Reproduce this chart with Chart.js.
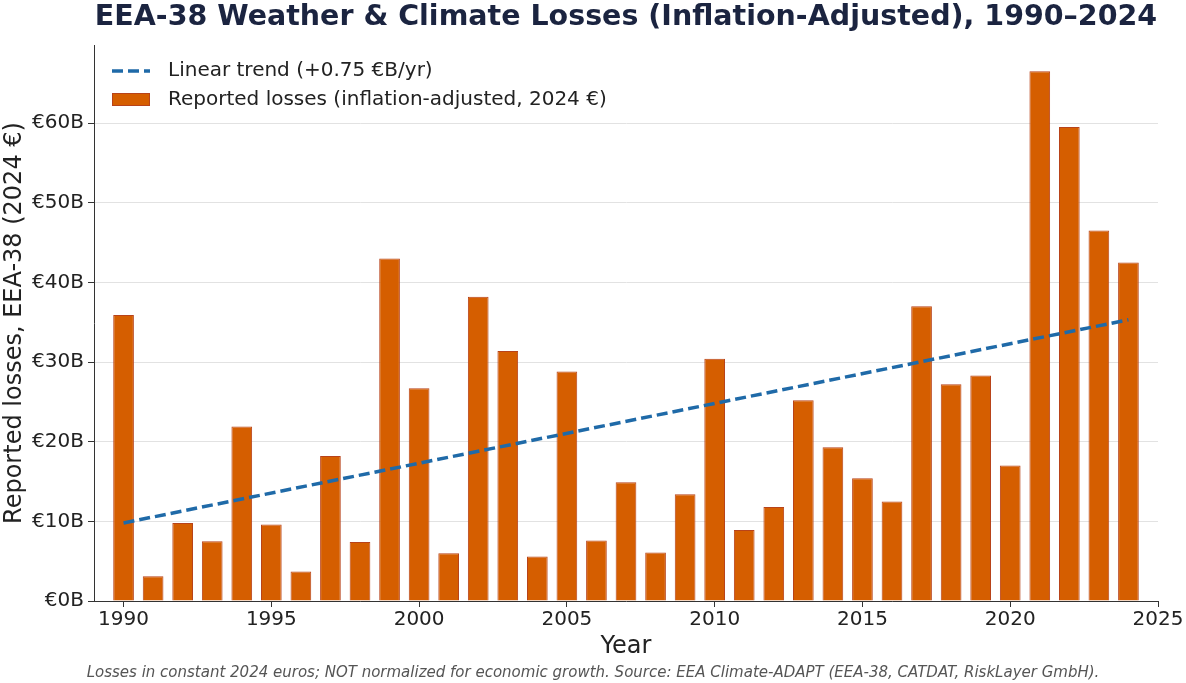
<!DOCTYPE html>
<html>
<head>
<meta charset="utf-8">
<script src="https://cdn.jsdelivr.net/npm/chart.js@4.4.1/dist/chart.umd.min.js"></script>
<style>
  html, body { margin: 0; padding: 0; background: #fff; }
  #wrap { width: 1186px; height: 683px; }
</style>
</head>
<body>
<div id="wrap"><canvas id="chart" width="1186" height="683"></canvas></div>
<script>
// ---------- DATA ----------
const years = [1990, 1991, 1992, 1993, 1994, 1995, 1996, 1997, 1998, 1999,
  2000, 2001, 2002, 2003, 2004, 2005, 2006, 2007, 2008, 2009,
  2010, 2011, 2012, 2013, 2014, 2015, 2016, 2017, 2018, 2019,
  2020, 2021, 2022, 2023, 2024];
const losses = [35.9, 3.1, 9.8, 7.5, 21.9, 9.6, 3.7, 18.2, 7.4, 43.0,
  26.7, 6.0, 38.2, 31.4, 5.6, 28.8, 7.6, 14.9, 6.1, 13.4,
  30.4, 8.9, 11.8, 25.2, 19.3, 15.4, 12.5, 37.0, 27.2, 28.3,
  17.0, 66.5, 59.5, 46.5, 42.5];
const trendYears = [1990, 2024];
const trendValues = [9.8, 35.3];
const xTicks = [1990, 1995, 2000, 2005, 2010, 2015, 2020, 2025];
const yTicks = [0, 10, 20, 30, 40, 50, 60];

const TITLE = 'EEA-38 Weather & Climate Losses (Inflation-Adjusted), 1990–2024';
const FOOTNOTE = 'Losses in constant 2024 euros; NOT normalized for economic growth. Source: EEA Climate-ADAPT (EEA-38, CATDAT, RiskLayer GmbH).';

const FONT = "'DejaVu Sans', sans-serif";
const BAR_COLOR = '#d55e00';
const BAR_EDGE = '#b8431a';
const TREND_COLOR = '#1f6aa8';
const AXIS_COLOR = '#333333';

// texts + legend drawn inside the figure, matplotlib-style
const decorations = {
  id: 'decorations',
  afterDraw(chart) {
    const ctx = chart.ctx;
    const area = chart.chartArea;
    ctx.save();

    // title
    ctx.fillStyle = '#1b2440';
    ctx.font = 'bold 28.5px ' + FONT;
    ctx.textAlign = 'center';
    ctx.textBaseline = 'middle';
    ctx.fillText(TITLE, (area.left + area.right) / 2, 18);

    // footnote
    ctx.fillStyle = '#555555';
    ctx.font = 'italic 15px ' + FONT;
    ctx.fillText(FOOTNOTE, 593, 673);

    // legend
    ctx.textAlign = 'left';
    ctx.font = '20px ' + FONT;
    const lx = area.left + 18;
    ctx.strokeStyle = TREND_COLOR;
    ctx.lineWidth = 3.5;
    ctx.setLineDash([11, 5]);
    ctx.beginPath();
    ctx.moveTo(lx, 71);
    ctx.lineTo(lx + 38, 71);
    ctx.stroke();
    ctx.setLineDash([]);
    ctx.fillStyle = '#222222';
    ctx.fillText(chart.data.datasets[0].label, lx + 56, 71);

    ctx.fillStyle = BAR_COLOR;
    ctx.fillRect(lx, 93, 38, 13);
    ctx.strokeStyle = BAR_EDGE;
    ctx.lineWidth = 1;
    ctx.strokeRect(lx + 0.5, 93.5, 37, 12);
    ctx.fillStyle = '#222222';
    ctx.fillText(chart.data.datasets[1].label, lx + 56, 100);

    ctx.restore();
  }
};

new Chart(document.getElementById('chart'), {
  data: {
    datasets: [
      {
        type: 'line',
        label: 'Linear trend (+0.75 €B/yr)',
        data: trendYears.map((x, i) => ({ x, y: trendValues[i] })),
        borderColor: TREND_COLOR,
        borderWidth: 3.5,
        borderDash: [11, 5],
        pointRadius: 0,
        fill: false,
        order: 0
      },
      {
        type: 'bar',
        label: 'Reported losses (inflation-adjusted, 2024 €)',
        data: years.map((x, i) => ({ x, y: losses[i] })),
        backgroundColor: BAR_COLOR,
        borderColor: BAR_EDGE,
        borderWidth: 1,
        barPercentage: 0.7,
        categoryPercentage: 1.0,
        order: 1
      }
    ]
  },
  options: {
    responsive: false,
    animation: false,
    devicePixelRatio: 1,
    layout: { padding: { top: 45, right: 28, bottom: 0, left: 0 } },
    plugins: {
      legend: { display: false },
      title: { display: false },
      tooltip: { enabled: false }
    },
    scales: {
      x: {
        type: 'linear',
        min: 1989,
        max: 2025,
        offset: false,
        afterFit(scale) { scale.height = 82; },
        afterBuildTicks(scale) { scale.ticks = xTicks.map(v => ({ value: v })); },
        ticks: {
          color: '#222222',
          font: { family: FONT, size: 20 },
          padding: 1,
          maxRotation: 0,
          autoSkip: false,
          callback: v => String(v)
        },
        grid: { offset: false, drawOnChartArea: false, tickColor: AXIS_COLOR, tickLength: 6 },
        border: { display: true, color: AXIS_COLOR, width: 1 },
        title: {
          display: true,
          text: 'Year',
          color: '#222222',
          font: { family: FONT, size: 24 },
          padding: { top: 0, bottom: 22 }
        }
      },
      y: {
        type: 'linear',
        min: 0,
        max: 69.8,
        afterFit(scale) { scale.width = 94; },
        afterBuildTicks(scale) { scale.ticks = yTicks.map(v => ({ value: v })); },
        ticks: {
          color: '#222222',
          font: { family: FONT, size: 20 },
          padding: 4,
          callback: v => '€' + v + 'B'
        },
        grid: { color: '#e2e2e2', lineWidth: 1, tickColor: AXIS_COLOR, tickLength: 6 },
        border: { display: true, color: AXIS_COLOR, width: 1 },
        title: {
          display: true,
          text: 'Reported losses, EEA-38 (2024 €)',
          color: '#222222',
          font: { family: FONT, size: 24 },
          padding: { top: 0, bottom: 0 }
        }
      }
    }
  },
  plugins: [decorations]
});
</script>
</body>
</html>
